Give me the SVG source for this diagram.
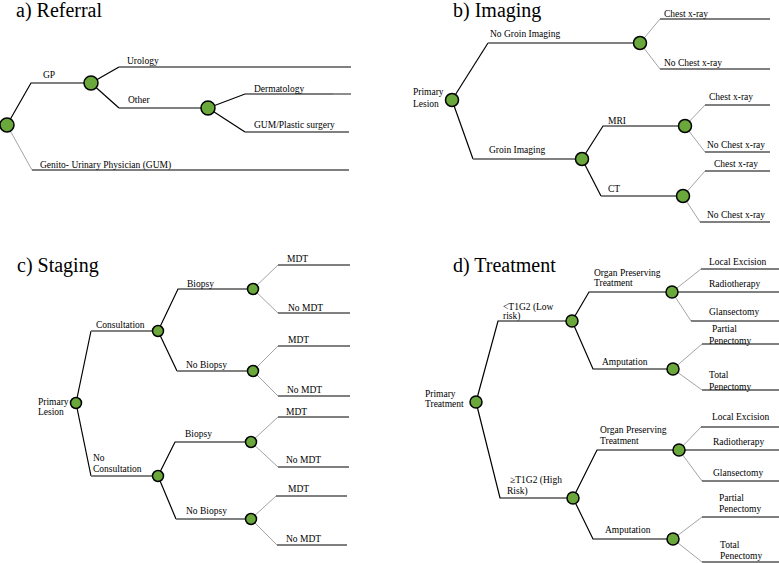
<svg xmlns="http://www.w3.org/2000/svg" width="779" height="563" viewBox="0 0 779 563">
<style>
.k{stroke:#000;stroke-width:1.2;fill:none}
.g{stroke:#808080;stroke-width:1.8;fill:none}
.t{stroke:#8c8c8c;stroke-width:0.8;fill:none}
.n{fill:#6aa83c;stroke:#000;stroke-width:1.5}
text{font-family:'Liberation Serif','Times New Roman','DejaVu Serif',serif;font-size:9.5px;fill:#000}
.ti{font-size:20px}
</style>
<rect width="779" height="563" fill="#fff"/>
<g font-family="Liberation Serif, Times New Roman, serif">
<g id="titles">
<text class="ti" x="16" y="17">a) Referral</text>
<text class="ti" x="453" y="17">b) Imaging</text>
<text class="ti" x="17" y="272">c) Staging</text>
<text class="ti" x="453" y="272">d) Treatment</text>
</g>
<g id="connectors">
<polyline class="k" points="7,125 31,83 91,83"/>
<polyline class="k" points="91,83 119,67"/><line class="g" x1="119" y1="67" x2="351" y2="67"/>
<polyline class="k" points="91,83 119,108"/><line class="g" x1="119" y1="108" x2="208" y2="108"/>
<polyline class="k" points="208,108 245,94 333,94"/><line class="g" x1="333" y1="94" x2="351" y2="94"/>
<polyline class="k" points="208,108 245,132"/><line class="g" x1="245" y1="132" x2="349" y2="132"/>
<polyline class="t" points="7,125 32,170"/><line class="k" x1="32" y1="170" x2="349" y2="170"/>
<polyline class="k" points="452,100 488,43"/><line class="g" x1="488" y1="43" x2="640" y2="43"/>
<polyline class="t" points="640,43 660,19"/><line class="g" x1="660" y1="19" x2="770" y2="19"/>
<polyline class="t" points="640,43 660,69"/><line class="g" x1="660" y1="69" x2="770" y2="69"/>
<polyline class="k" points="452,100 473,159"/><line class="g" x1="473" y1="159" x2="582" y2="159"/>
<polyline class="k" points="582,159 603,126 685,126"/>
<polyline class="k" points="582,159 601,196"/><line class="g" x1="601" y1="196" x2="683" y2="196"/>
<polyline class="t" points="685,126 705,105"/><line class="k" x1="705" y1="105" x2="770" y2="105"/>
<polyline class="t" points="685,126 705,152"/><line class="k" x1="705" y1="152" x2="770" y2="152"/>
<polyline class="t" points="683,196 705,171"/><line class="k" x1="705" y1="171" x2="770" y2="171"/>
<polyline class="t" points="683,196 700,222"/><line class="g" x1="700" y1="222" x2="770" y2="222"/>
<polyline class="k" points="76,403 91,331"/><line class="g" x1="91" y1="331" x2="158" y2="331"/>
<polyline class="k" points="158,331 178,289 253,289"/>
<polyline class="k" points="158,331 177,371"/><line class="g" x1="177" y1="371" x2="253" y2="371"/>
<polyline class="t" points="253,289 278,265"/><line class="k" x1="278" y1="265" x2="350" y2="265"/>
<polyline class="t" points="253,289 278,313"/><line class="g" x1="278" y1="313" x2="350" y2="313"/>
<polyline class="t" points="253,371 278,346"/><line class="g" x1="278" y1="346" x2="350" y2="346"/>
<polyline class="t" points="253,371 278,396"/><line class="g" x1="278" y1="396" x2="350" y2="396"/>
<polyline class="k" points="76,403 91,476"/><line class="g" x1="91" y1="476" x2="158" y2="476"/>
<polyline class="k" points="158,476 175,442 251,442"/>
<polyline class="k" points="158,476 176,519"/><line class="g" x1="176" y1="519" x2="251" y2="519"/>
<polyline class="t" points="251,442 278,417"/><line class="k" x1="278" y1="417" x2="349" y2="417"/>
<polyline class="t" points="251,442 278,467"/><line class="k" x1="278" y1="467" x2="349" y2="467"/>
<polyline class="t" points="251,519 276,496"/><line class="k" x1="276" y1="496" x2="347" y2="496"/>
<polyline class="t" points="251,519 277,545"/><line class="k" x1="277" y1="545" x2="347" y2="545"/>
<polyline class="k" points="476,402 498,321 572,321"/>
<polyline class="k" points="572,321 589,292 672,292"/>
<polyline class="k" points="572,321 593,369 673,369"/>
<polyline class="t" points="672,292 701,269"/><line class="k" x1="701" y1="269" x2="779" y2="269"/>
<line class="g" x1="672" y1="292" x2="779" y2="292"/>
<polyline class="t" points="672,292 691,321"/><line class="k" x1="691" y1="321" x2="779" y2="321"/>
<polyline class="t" points="673,369 702,344"/><line class="g" x1="702" y1="344" x2="779" y2="344"/>
<polyline class="t" points="673,369 702,390"/><line class="k" x1="702" y1="390" x2="779" y2="390"/>
<polyline class="k" points="476,402 500,498 573,498"/>
<polyline class="k" points="573,498 597,450 679,450"/>
<polyline class="k" points="573,498 593,539 673,539"/>
<polyline class="t" points="679,450 701,427"/><line class="k" x1="701" y1="427" x2="779" y2="427"/>
<line class="g" x1="679" y1="450" x2="779" y2="450"/>
<polyline class="t" points="679,450 702,481"/><line class="k" x1="702" y1="481" x2="779" y2="481"/>
<polyline class="t" points="673,539 702,517"/><line class="k" x1="702" y1="517" x2="779" y2="517"/>
<polyline class="t" points="673,539 702,562"/><line class="k" x1="702" y1="562" x2="779" y2="562"/>
</g>
<g id="labels">
<text x="43" y="78">GP</text>
<text x="127" y="64">Urology</text>
<text x="128" y="103">Other</text>
<text x="254" y="92">Dermatology</text>
<text x="254" y="128">GUM/Plastic surgery</text>
<text x="40" y="168">Genito- Urinary Physician (GUM)</text>
<text x="490" y="37">No Groin Imaging</text>
<text x="664" y="17">Chest x-ray</text>
<text x="664" y="66">No Chest x-ray</text>
<text x="489" y="153">Groin Imaging</text>
<text x="608" y="124">MRI</text>
<text x="608" y="192">CT</text>
<text x="709" y="100">Chest x-ray</text>
<text x="707" y="148">No Chest x-ray</text>
<text x="714" y="167">Chest x-ray</text>
<text x="707" y="218">No Chest x-ray</text>
<text x="96" y="328">Consultation</text>
<text x="187" y="287">Biopsy</text>
<text x="186" y="368">No Biopsy</text>
<text x="287" y="262">MDT</text>
<text x="288" y="311">No MDT</text>
<text x="288" y="343">MDT</text>
<text x="287" y="393">No MDT</text>
<text x="93" y="461">No</text>
<text x="93" y="472">Consultation</text>
<text x="185" y="437">Biopsy</text>
<text x="186" y="514">No Biopsy</text>
<text x="286" y="415">MDT</text>
<text x="286" y="463">No MDT</text>
<text x="288" y="492">MDT</text>
<text x="286" y="542">No MDT</text>
<text x="503" y="310">&lt;T1G2 (Low</text>
<text x="503" y="319">risk)</text>
<text x="594" y="276">Organ Preserving</text>
<text x="594" y="286">Treatment</text>
<text x="602" y="365">Amputation</text>
<text x="709" y="265">Local Excision</text>
<text x="709" y="287">Radiotherapy</text>
<text x="709" y="315">Glansectomy</text>
<text x="712" y="332">Partial</text>
<text x="709" y="344">Penectomy</text>
<text x="709" y="378">Total</text>
<text x="709" y="390">Penectomy</text>
<text x="510" y="483">≥T1G2 (High</text>
<text x="507" y="494">Risk)</text>
<text x="600" y="433">Organ Preserving</text>
<text x="600" y="444">Treatment</text>
<text x="605" y="533">Amputation</text>
<text x="712" y="420">Local Excision</text>
<text x="713" y="445">Radiotherapy</text>
<text x="713" y="476">Glansectomy</text>
<text x="719" y="501">Partial</text>
<text x="719" y="512">Penectomy</text>
<text x="720" y="548">Total</text>
<text x="720" y="559">Penectomy</text>
</g>
<g id="a-root"><circle class="n" cx="7" cy="125" r="7"/></g>
<g id="a-gp"><circle class="n" cx="91" cy="83" r="7"/></g>
<g id="a-other"><circle class="n" cx="208" cy="108" r="7"/></g>
<g id="b-root"><circle class="n" cx="452" cy="100" r="6.5"/><text x="413" y="95">Primary</text><text x="413" y="107">Lesion</text></g>
<g id="b-nogroin"><circle class="n" cx="640" cy="43" r="6.5"/></g>
<g id="b-groin"><circle class="n" cx="582" cy="159" r="6.5"/></g>
<g id="b-mri"><circle class="n" cx="685" cy="126" r="6.5"/></g>
<g id="b-ct"><circle class="n" cx="683" cy="196" r="6.5"/></g>
<g id="c-root"><circle class="n" cx="76" cy="403" r="5.5"/><text x="38" y="405">Primary</text><text x="38" y="415">Lesion</text></g>
<g id="c-cons"><circle class="n" cx="158" cy="331" r="5.5"/></g>
<g id="c-cons-biopsy"><circle class="n" cx="253" cy="289" r="5.5"/></g>
<g id="c-cons-nobiopsy"><circle class="n" cx="253" cy="371" r="5.5"/></g>
<g id="c-nocons"><circle class="n" cx="158" cy="476" r="5.5"/></g>
<g id="c-nocons-biopsy"><circle class="n" cx="251" cy="442" r="5.5"/></g>
<g id="c-nocons-nobiopsy"><circle class="n" cx="251" cy="519" r="5.5"/></g>
<g id="d-root"><circle class="n" cx="476" cy="402" r="6"/><text x="425" y="397">Primary</text><text x="425" y="407">Treatment</text></g>
<g id="d-low"><circle class="n" cx="572" cy="321" r="6"/></g>
<g id="d-low-organ"><circle class="n" cx="672" cy="292" r="6"/></g>
<g id="d-low-amp"><circle class="n" cx="673" cy="369" r="6"/></g>
<g id="d-high"><circle class="n" cx="573" cy="498" r="6"/></g>
<g id="d-high-organ"><circle class="n" cx="679" cy="450" r="6"/></g>
<g id="d-high-amp"><circle class="n" cx="673" cy="539" r="6"/></g>
</g>
</svg>
